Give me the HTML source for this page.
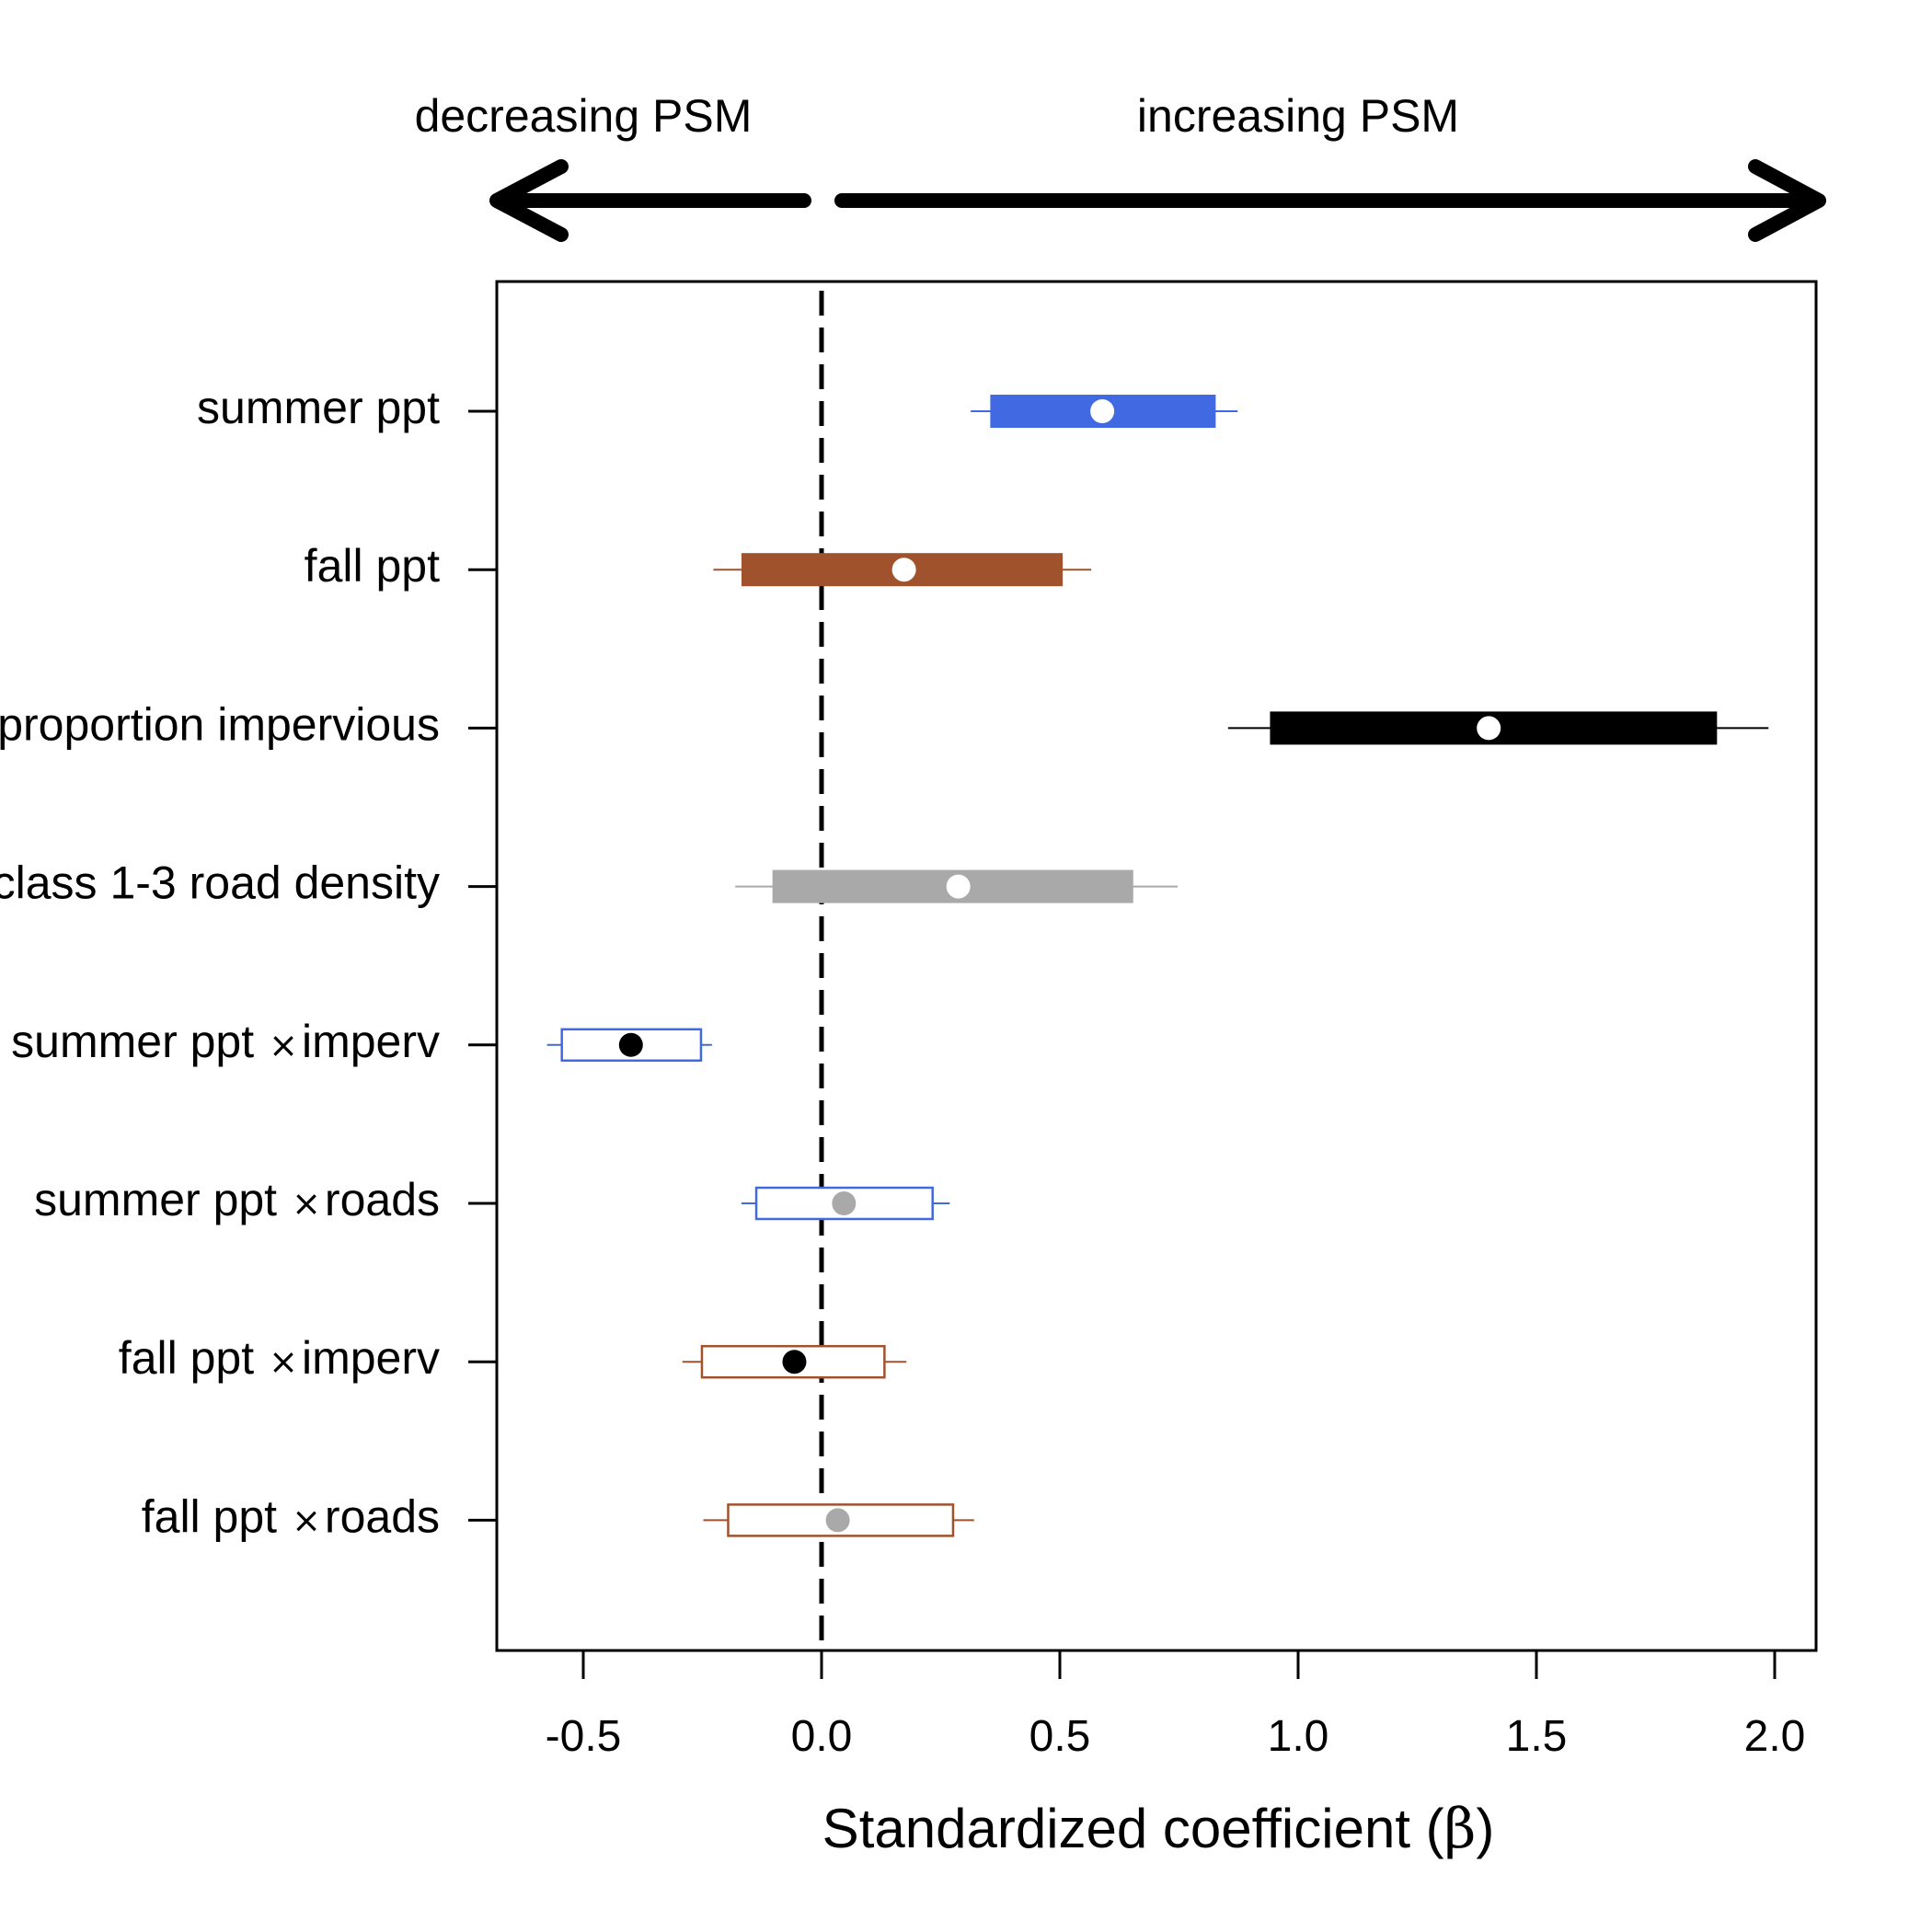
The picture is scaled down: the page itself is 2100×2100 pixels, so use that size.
<!DOCTYPE html>
<html><head><meta charset="utf-8"><style>
html,body{margin:0;padding:0;background:#fff;}
svg{display:block;font-family:"Liberation Sans",Arial,sans-serif;}
</style></head><body>
<svg id="chart" width="2100" height="2100" viewBox="0 0 2100 2100" xmlns="http://www.w3.org/2000/svg">
<g id="arrows" stroke="#000" stroke-width="16" stroke-linecap="round" stroke-linejoin="round" fill="none">
  <path d="M874 218 L540 218 M610 181 L540 218 L610 255"/>
  <path d="M915 218 L1977 218 M1908 181 L1977 218 L1908 255"/>
</g>
<text x="634" y="143" font-size="50" text-anchor="middle">decreasing PSM</text>
<text x="1411" y="143" font-size="50" text-anchor="middle">increasing PSM</text>
<rect x="540" y="306" width="1434" height="1488" fill="none" stroke="#000" stroke-width="3"/>
<g id="marks"></g>
<g id="axes"></g>
<text x="1259" y="2008" font-size="60" text-anchor="middle">Standardized coefficient (<tspan font-family="'DejaVu Serif',serif">β</tspan>)</text>
</svg>
<script>
const labels = ["summer ppt","fall ppt","proportion impervious","class 1-3 road density","summer ppt ×imperv","summer ppt ×roads","fall ppt ×imperv","fall ppt ×roads"];
const estimates = [0.589,0.173,1.40,0.287,-0.40,0.047,-0.057,0.034];
const innerLow = [0.354,-0.168,0.941,-0.103,-0.545,-0.137,-0.251,-0.196];
const innerHigh = [0.827,0.506,1.879,0.654,-0.253,0.233,0.132,0.276];
const outerLow = [0.313,-0.227,0.853,-0.181,-0.576,-0.168,-0.292,-0.248];
const outerHigh = [0.873,0.566,1.987,0.747,-0.23,0.269,0.178,0.320];
const colors = ["#4169E1","#A0522D","#000000","#A9A9A9","#4169E1","#4169E1","#A0522D","#A0522D"];
const filled = [true,true,true,true,false,false,false,false];
const pointColors = ["#fff","#fff","#fff","#fff","#000","#A9A9A9","#000","#A9A9A9"];
const xTicks = [-0.5,0,0.5,1.0,1.5,2.0];
const xTickLabels = ["-0.5","0.0","0.5","1.0","1.5","2.0"];

const NS="http://www.w3.org/2000/svg";
function X(v){return 893+v*518;}
function Y(i){return 447+i*172.2;}
function mk(tag,attrs,parent){const e=document.createElementNS(NS,tag);for(const k in attrs)e.setAttribute(k,attrs[k]);parent.appendChild(e);return e;}
const marks=document.getElementById('marks');
const axes=document.getElementById('axes');

const z=mk('line',{x1:X(0),x2:X(0),y1:316,y2:1794,stroke:'#000','stroke-width':5,'stroke-dasharray':'27,13'},marks);



labels.forEach((lab,i)=>{
  const y=Y(i);
  const g=mk('g',{},marks);
  
  
  const w=mk('line',{x1:X(outerLow[i]),x2:X(outerHigh[i]),y1:y,y2:y,stroke:colors[i],'stroke-width':2},g);
  
  
  const h=filled[i]?36:34;
  const r=mk('rect',{x:X(innerLow[i]),y:y-h/2,width:X(innerHigh[i])-X(innerLow[i]),height:h,
    fill:filled[i]?colors[i]:'#fff',stroke:colors[i],'stroke-width':filled[i]?0:2.5},g);
  
  
  const c=mk('circle',{cx:X(estimates[i]),cy:y,r:13,fill:pointColors[i]},g);
  
  
  const t=mk('line',{x1:509,x2:540,y1:y,y2:y,stroke:'#000','stroke-width':3},axes);
  
  
  const tx=mk('text',{x:478,y:y+13,'font-size':50,'text-anchor':'end'},axes);
  
  
  const parts=lab.split('×');
  if(parts.length>1){
    tx.appendChild(document.createTextNode(parts[0].trim()));
    const s=mk('tspan',{'font-size':38,dx:16,'font-family':"'DejaVu Sans',sans-serif"},tx); s.textContent='×';
    const s2=mk('tspan',{dx:4},tx); s2.textContent=parts[1];
  } else tx.textContent=lab;
});

xTicks.forEach((v,i)=>{
  const t=mk('line',{x1:X(v),x2:X(v),y1:1794,y2:1825,stroke:'#000','stroke-width':3},axes);
  
  
  const tx=mk('text',{x:X(v),y:1903,'font-size':48,'text-anchor':'middle'},axes);
  
  
  tx.textContent=xTickLabels[i];
});
</script>
</body></html>
